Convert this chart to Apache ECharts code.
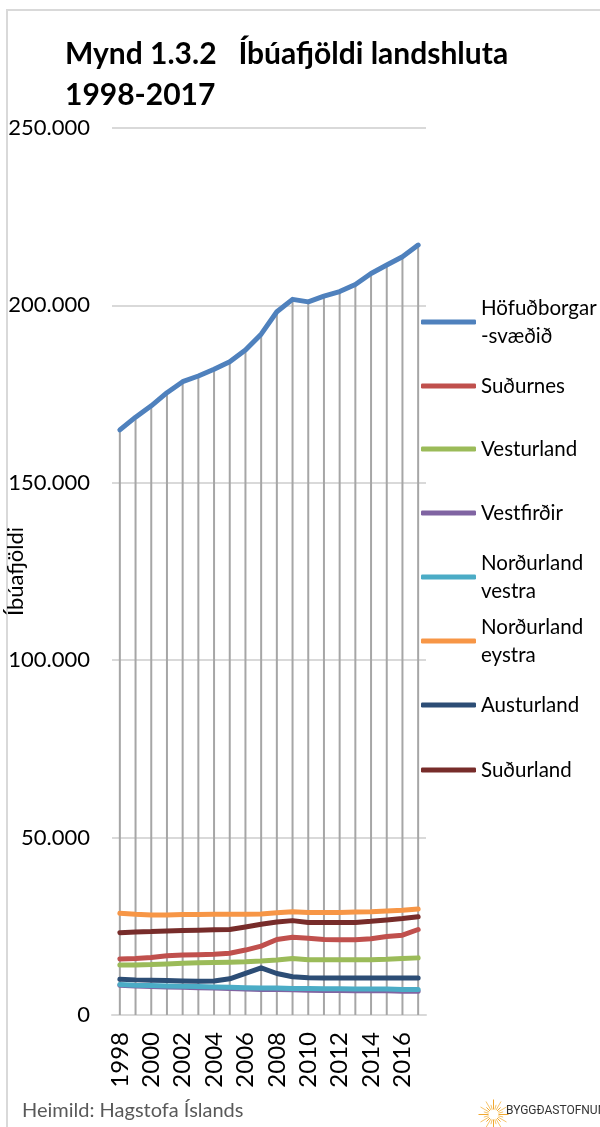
<!DOCTYPE html>
<html lang="is">
  <head>
    <meta charset="UTF-8" />
    <title>Íbúafjöldi landshluta</title>
    <script src="https://cdn.jsdelivr.net/npm/echarts@6.0.0/dist/echarts.min.js"></script>
    <style>
      html, body { margin: 0; padding: 0; background: #fff; }
    </style>
  </head>
  <body>
    <div id="main" style="width: 600px; height: 1127px"></div>
    <script type="text/javascript">
      // Years on the x axis
      const years = [1998, 1999, 2000, 2001, 2002, 2003, 2004, 2005, 2006, 2007,
                     2008, 2009, 2010, 2011, 2012, 2013, 2014, 2015, 2016, 2017].map(String);

      // Population per region
      const hofudborgarsvaedid = [164900, 168500, 171700, 175400, 178500, 180100, 182000, 184100, 187400, 191900,
                                  198200, 201700, 201000, 202600, 203900, 205900, 209000, 211400, 213700, 217000];
      const sudurnes = [15800, 15900, 16200, 16700, 16900, 17000, 17100, 17400, 18300, 19400,
                        21300, 21900, 21600, 21300, 21200, 21200, 21500, 22100, 22500, 24100];
      const vesturland = [14100, 14100, 14200, 14400, 14600, 14700, 14800, 14900, 15000, 15200,
                          15500, 15900, 15600, 15600, 15600, 15600, 15600, 15700, 15900, 16100];
      const vestfirdir = [8400, 8200, 8000, 7900, 7800, 7700, 7600, 7500, 7300, 7200,
                          7200, 7100, 7000, 6900, 6900, 6800, 6800, 6800, 6700, 6700];
      const nordurlandVestra = [8600, 8400, 8300, 8200, 8100, 8000, 7900, 7800, 7700, 7600,
                                7600, 7500, 7500, 7400, 7400, 7300, 7300, 7300, 7200, 7200];
      const nordurlandEystra = [28700, 28400, 28200, 28200, 28300, 28300, 28400, 28400, 28400, 28500,
                                28800, 29100, 28900, 28900, 28900, 29000, 29100, 29300, 29500, 29900];
      const austurland = [10100, 9900, 9800, 9700, 9600, 9500, 9600, 10200, 11700, 13300,
                          11700, 10800, 10500, 10400, 10400, 10400, 10400, 10400, 10400, 10400];
      const sudurland = [23200, 23400, 23500, 23700, 23800, 23900, 24000, 24100, 24800, 25600,
                         26200, 26600, 26100, 26100, 26100, 26100, 26400, 26800, 27200, 27700];

      const yTicks = [0, 50000, 100000, 150000, 200000, 250000];

      const regions = [
        { name: "Höfuðborgarsvæðið", label: "Höfuðborgar\n-svæðið", data: hofudborgarsvaedid, color: "#4f81bd" },
        { name: "Suðurnes", label: "Suðurnes", data: sudurnes, color: "#c0504d" },
        { name: "Vesturland", label: "Vesturland", data: vesturland, color: "#9bbb59" },
        { name: "Vestfirðir", label: "Vestfirðir", data: vestfirdir, color: "#8064a2" },
        { name: "Norðurland vestra", label: "Norðurland\nvestra", data: nordurlandVestra, color: "#4bacc6" },
        { name: "Norðurland eystra", label: "Norðurland\neystra", data: nordurlandEystra, color: "#f79646" },
        { name: "Austurland", label: "Austurland", data: austurland, color: "#2c4d75" },
        { name: "Suðurland", label: "Suðurland", data: sudurland, color: "#772c2a" }
      ];

      // centre of each legend swatch, in pixels
      const legendY = [322, 386, 449, 513, 577, 641, 705, 770];
      const LH = 28;

      const fmt = (v) => String(v).replace(/\B(?=(\d{3})+(?!\d))/g, ".");

      let myChart = echarts.init(document.getElementById("main"), null, { renderer: "canvas" });

      // one legend per entry so each sits where it does in the picture
      const legends = regions.map((r, i) => {
        const twoLines = r.label.indexOf("\n") >= 0;
        return {
          data: [r.name],
          orient: "vertical",
          left: 421,
          top: legendY[i] - (twoLines ? LH * 1.5 : LH / 2),
          padding: 0,
          icon: "roundRect",
          itemWidth: 55,
          itemHeight: 5,
          selectedMode: false,
          formatter: () => r.label,
          textStyle: {
            fontFamily: "Lato",
            fontSize: 20.5,
            color: "#000",
            lineHeight: LH,
            padding: twoLines ? [LH, 0, 0, 0] : 0
          }
        };
      });

      const lineSeries = regions.map((r) => ({
        name: r.name,
        type: "line",
        data: r.data,
        showSymbol: false,
        symbol: "none",
        color: r.color,
        lineStyle: { width: 5, color: r.color, cap: "round", join: "round" },
        z: 3
      }));

      let options = {
        animation: false,
        backgroundColor: "#fff",
        title: {
          text: "Mynd 1.3.2   Íbúafjöldi landshluta\n1998-2017",
          left: 65,
          top: 34,
          padding: 0,
          textStyle: { fontFamily: "Lato", fontWeight: "bold", fontSize: 30, lineHeight: 41, color: "#000" }
        },
        legend: legends,
        grid: { left: 112, right: 174, top: 128, bottom: 112, containLabel: false, outerBoundsMode: "none" },
        xAxis: {
          type: "category",
          data: years,
          boundaryGap: true,
          axisLine: { show: true, lineStyle: { color: "#d9d9d9", width: 2 } },
          axisTick: { show: false },
          axisLabel: {
            interval: 1,
            rotate: 90,
            margin: 17,
            fontFamily: "Lato",
            fontSize: 24,
            color: "#000"
          }
        },
        yAxis: {
          type: "value",
          min: yTicks[0],
          max: yTicks[yTicks.length - 1],
          interval: yTicks[1] - yTicks[0],
          name: "Íbúafjöldi",
          nameLocation: "middle",
          nameGap: 85,
          nameMoveOverlap: false,
          nameTextStyle: { fontFamily: "Lato", fontSize: 22, color: "#000" },
          axisLine: { show: false },
          axisTick: { show: false },
          splitLine: { show: true, lineStyle: { color: "#d9d9d9", width: 2 } },
          axisLabel: {
            margin: 22,
            fontFamily: "Lato",
            fontSize: 22,
            color: "#000",
            formatter: fmt
          }
        },
        series: [
          // drop lines from the top series down to the axis
          {
            name: "drop",
            type: "bar",
            data: hofudborgarsvaedid,
            barWidth: 2,
            itemStyle: { color: "#a6a6a6" },
            silent: true,
            z: 1
          }
        ].concat(lineSeries),
        graphic: [
          {
            type: "polyline",
            shape: { points: [[7, 1127], [7, 10], [600, 10]] },
            style: { stroke: "#d9d9d9", lineWidth: 2, fill: null },
            silent: true
          },
          {
            type: "text",
            left: 22,
            top: 1101,
            style: { text: "Heimild: Hagstofa Íslands", fontFamily: "Lato", fontSize: 20, fill: "#595959" }
          },
          {
            type: "group",
            left: 476,
            top: 1097,
            children: Array.from({ length: 24 }, (_, k) => {
              const a = (k / 24) * Math.PI * 2;
              const r1 = 5, r2 = k % 2 ? 10 : 15;
              return {
                type: "line",
                shape: {
                  x1: 15 + r1 * Math.cos(a), y1: 15 + r1 * Math.sin(a),
                  x2: 15 + r2 * Math.cos(a), y2: 15 + r2 * Math.sin(a)
                },
                style: { stroke: k % 3 ? "#f6c46a" : "#f0a830", lineWidth: 1 }
              };
            })
          },
          {
            type: "text",
            left: 506,
            top: 1105,
            style: { text: "BYGGÐASTOFNUN", fontFamily: "Liberation Sans Narrow, Roboto", fontSize: 12, fill: "#333" }
          }
        ]
      };

      myChart.setOption(options);
    </script>
  </body>
</html>
